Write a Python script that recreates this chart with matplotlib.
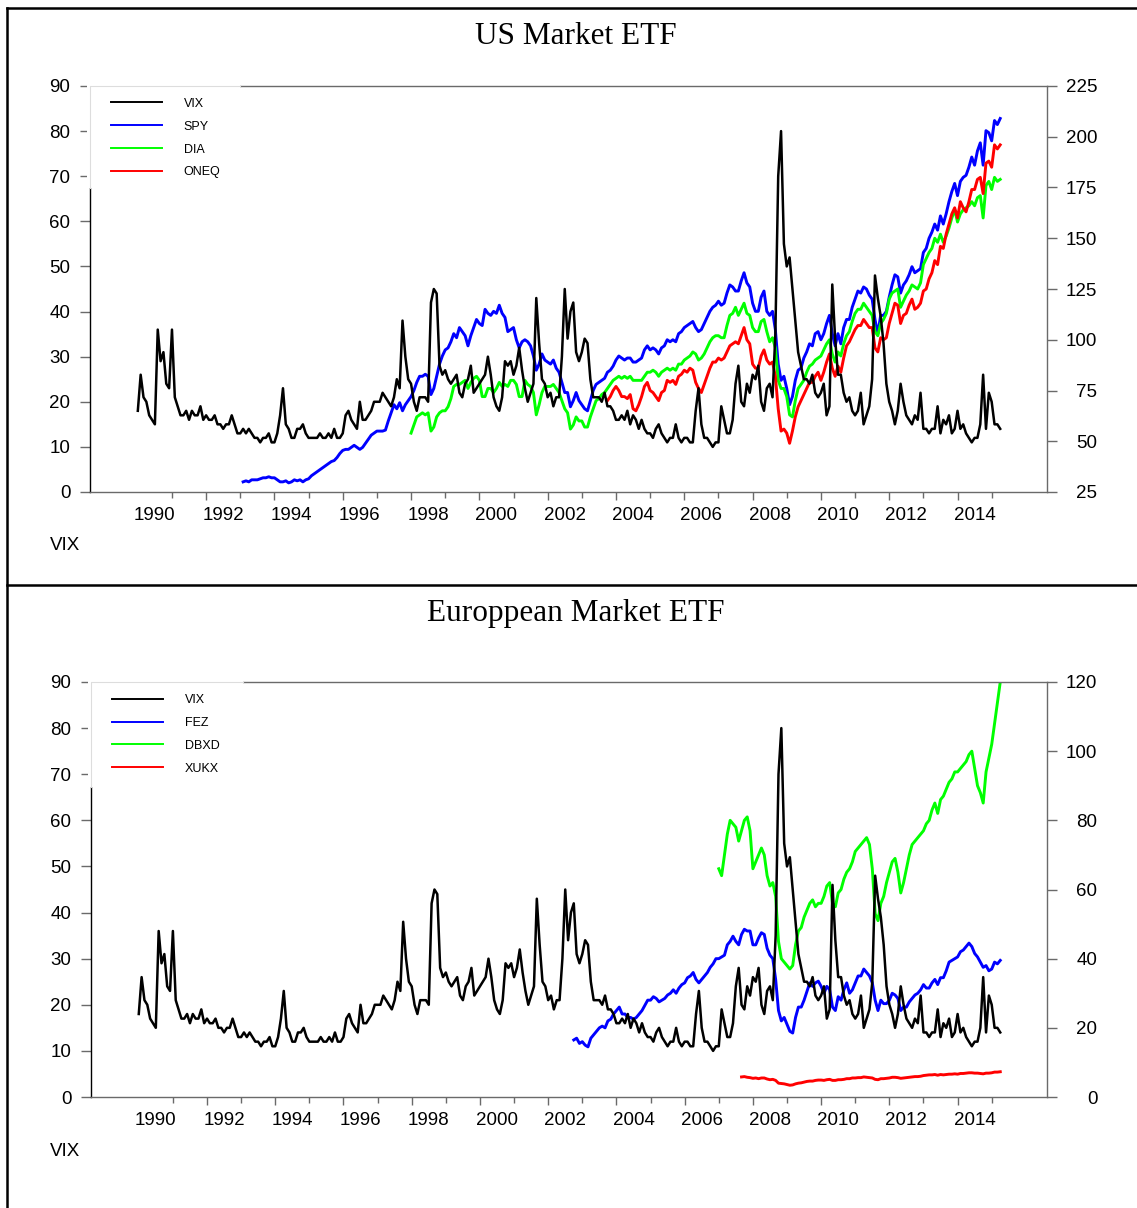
import numpy as np
import matplotlib
matplotlib.use('Agg')
import matplotlib.pyplot as plt
from matplotlib.lines import Line2D
from matplotlib.patches import Rectangle

plt.rcParams['font.family'] = 'Liberation Sans'

# monthly values, first value = first month of the series
vix_start = 1990.0
vix = [18, 26, 21, 20, 17, 16, 15, 36, 29, 31, 24, 23,   # 1990
       36, 21, 19, 17, 17, 18, 16, 18, 17, 17, 19, 16,   # 1991
       17, 16, 16, 17, 15, 15, 14, 15, 15, 17, 15, 13,   # 1992
       13, 14, 13, 14, 13, 12, 12, 11, 12, 12, 13, 11,   # 1993
       11, 13, 17, 23, 15, 14, 12, 12, 14, 14, 15, 13,   # 1994
       12, 12, 12, 12, 13, 12, 12, 13, 12, 14, 12, 12,   # 1995
       13, 17, 18, 16, 15, 14, 20, 16, 16, 17, 18, 20,   # 1996
       20, 20, 22, 21, 20, 19, 21, 25, 23, 38, 30, 25,   # 1997
       24, 20, 18, 21, 21, 21, 20, 42, 45, 44, 28, 26,   # 1998
       27, 25, 24, 25, 26, 22, 21, 24, 25, 28, 22, 23,   # 1999
       24, 25, 26, 30, 26, 21, 19, 18, 21, 29, 28, 29,   # 2000
       26, 28, 32, 27, 23, 20, 22, 24, 43, 33, 25, 24,   # 2001
       21, 22, 19, 21, 21, 30, 45, 34, 40, 42, 31, 29,   # 2002
       31, 34, 33, 25, 21, 21, 21, 20, 22, 19, 19, 18,   # 2003
       16, 16, 17, 16, 18, 15, 17, 16, 14, 16, 14, 13,   # 2004
       13, 12, 14, 15, 13, 12, 11, 12, 12, 15, 12, 11,   # 2005
       12, 12, 11, 11, 18, 23, 15, 12, 12, 11, 10, 11,   # 2006
       11, 19, 16, 13, 13, 16, 24, 28, 20, 19, 24, 22,   # 2007
       26, 25, 28, 20, 18, 23, 24, 21, 35, 70, 80, 55,   # 2008
       50, 52, 45, 38, 31, 28, 25, 25, 24, 26, 22, 21,   # 2009
       22, 24, 17, 19, 46, 34, 26, 26, 22, 20, 21, 18,   # 2010
       17, 18, 22, 15, 17, 19, 25, 48, 43, 39, 33, 24,   # 2011
       20, 18, 15, 18, 24, 20, 17, 16, 15, 17, 16, 22,   # 2012
       14, 14, 13, 14, 14, 19, 13, 16, 15, 17, 13, 14,   # 2013
       18, 14, 15, 13, 12, 11, 12, 12, 15, 26, 14, 22,   # 2014
       20, 15, 15, 14]                                   # 2015

spy_start = 1993 + 1 / 12
spy = [30, 30.5, 30, 31, 31, 31, 31.5, 32, 32, 32.5, 32,
       32, 31, 30, 30, 30.5, 29.5, 30, 31, 30.5, 31, 30, 31,
       31.5, 33, 34, 35, 36, 37, 38, 39, 40, 40.5, 42, 44,
       45.5, 46, 46, 47, 48, 47, 46, 47, 49, 51, 53, 54,
       55, 55, 55, 55.5, 60, 64, 68, 66, 69, 65, 68, 70,
       72, 75, 79, 82, 82, 83, 82, 73, 76, 82, 88, 92,
       95, 96, 99, 103, 101, 106, 104, 102, 97, 102, 106, 110,
       108, 107, 115, 113, 112, 114, 113, 117, 113, 111, 104, 105,
       106, 100, 96, 99, 100, 99, 97, 92, 85, 88, 93, 90,
       89, 88, 90, 86, 84, 79, 74, 74, 67, 70, 74, 70,
       68, 66, 65, 70, 75, 78, 79, 80, 81, 84, 85, 87,
       90, 92, 91, 90, 91, 91, 89, 89, 90, 91, 95, 97,
       95, 96, 95, 93, 96, 97, 100, 99, 100, 99, 103, 104,
       106, 107, 108, 109, 106, 104, 105, 108, 111, 114, 116, 117,
       119, 117, 118, 123, 127, 126, 124, 124, 129, 133, 128, 126,
       118, 114, 114, 121, 124, 114, 112, 114, 105, 88, 80, 82,
       76, 68, 72, 80, 85, 86, 91, 94, 98, 97, 103, 104,
       100, 103, 108, 112, 103, 97, 103, 98, 106, 110, 110, 116,
       120, 124, 123, 126, 125, 122, 120, 110, 103, 112, 112, 114,
       121, 127, 132, 131, 123, 127, 129, 132, 136, 133, 134, 135,
       143, 145, 150, 153, 157, 154, 161, 157, 162, 168, 173, 177,
       171, 178, 180, 181, 185, 190, 186, 193, 197, 186, 203, 202,
       198, 208, 206, 209]

dia_start = 1998.0
dia = [54, 58, 62, 63, 64, 63, 64, 55, 57, 62, 64, 65,
       65, 67, 71, 77, 78, 78, 79, 80, 76, 79, 81, 82,
       80, 72, 72, 76, 76, 74, 76, 79, 77, 78, 77, 80,
       80, 78, 72, 72, 80, 78, 77, 74, 63, 68, 74, 77,
       77, 77, 78, 76, 74, 70, 66, 64, 56, 58, 62, 60,
       60, 57, 57, 62, 66, 70, 71, 73, 74, 76, 78, 80,
       81, 82, 81, 82, 81, 82, 80, 80, 80, 80, 82, 84,
       84, 85, 84, 82, 84, 85, 86, 85, 86, 85, 88, 88,
       90, 91, 92, 94, 93, 90, 91, 93, 96, 99, 101, 102,
       102, 101, 101, 107, 112, 113, 116, 112, 115, 118, 113, 112,
       106, 104, 104, 109, 110, 104, 99, 101, 96, 80, 76, 76,
       72, 63, 62, 70, 76, 78, 80, 84, 87, 88, 90, 91,
       92, 95, 98, 100, 93, 89, 94, 92, 98, 102, 104, 109,
       113, 115, 115, 118, 116, 114, 112, 104, 102, 108, 110, 113,
       120, 123, 124, 125, 116, 119, 122, 124, 127, 126, 125, 128,
       137, 140, 143, 145, 150, 148, 152, 148, 151, 155, 160, 164,
       158, 162, 164, 165, 166, 168, 166, 170, 171, 160, 176, 178,
       174, 180, 178, 179]

oneq_start = 2003 + 9 / 12
oneq = [70, 72, 75,
        77, 75, 72, 72, 71, 73, 66, 65, 68, 72, 77, 79,
        75, 74, 72, 70, 74, 75, 80, 79, 80, 78, 82, 83,
        85, 84, 86, 85, 79, 76, 74, 78, 82, 86, 89, 89,
        91, 90, 91, 94, 97, 98, 99, 98, 102, 106, 100, 98,
        88, 86, 86, 92, 95, 90, 88, 89, 82, 66, 55, 56,
        54, 49, 55, 62, 67, 70, 73, 76, 79, 79, 82, 84,
        80, 84, 89, 93, 86, 82, 87, 84, 91, 97, 99, 102,
        105, 107, 107, 110, 108, 106, 106, 96, 94, 101, 100, 101,
        108, 113, 118, 117, 108, 112, 113, 117, 120, 115, 116, 118,
        124, 125, 130, 133, 139, 137, 146, 145, 152, 157, 162, 165,
        160, 168, 165, 163, 168, 174, 174, 179, 180, 172, 187, 188,
        185, 196, 194, 196]

fez_start = 2002 + 9 / 12
fez = [16.5, 17, 15.5,
       16, 15, 14.5, 17, 18, 19, 20, 20.5, 20, 22, 22.5, 24,
       25, 26, 24, 24, 23, 23, 22.5, 23, 24, 25, 26.5, 28,
       28, 29, 28.5, 27.5, 28, 28.5, 29.5, 30, 31, 30, 31.5, 32.5,
       33, 34.5, 35, 36, 34, 33, 34, 35, 36, 37.5, 38.5, 40,
       40, 40.5, 41, 44, 45, 46.5, 45, 44, 47, 48.5, 48, 48,
       44, 44, 46, 47.5, 47, 43, 41, 40, 34, 25, 22, 23,
       21, 19, 18.5, 23, 26, 26, 28, 30.5, 33, 32, 33, 33.5,
       32, 30, 32, 31, 26, 25, 29, 28, 31, 33, 30, 31,
       33, 35, 35, 37, 36, 35, 33, 28, 25, 28, 27, 27,
       28, 30, 29.5, 28.5, 25, 26, 26, 27.5, 28.5, 29.5, 30, 31,
       32.5, 31.5, 31.5, 33, 34, 32.5, 34.5, 34.5, 36.5, 39, 39.5, 40,
       40.5, 42, 42.5, 43.5, 44.5, 43.5, 41.5, 40.5, 39, 37.5, 38, 36.5,
       37, 39, 38.5, 39.5]

dbxd_start = 2007.0
dbxd = [66, 64, 70, 76, 80, 79, 78, 74, 77, 80, 81, 77,
        66, 68, 70, 72, 70, 64, 61, 62, 58, 45, 40, 39,
        38, 37, 38, 44, 48, 49, 52, 54, 56, 57, 55, 56,
        56, 58, 61, 62, 56, 55, 59, 60, 63, 65, 66, 68,
        71, 72, 73, 74, 75, 73, 66, 53, 51, 56, 58, 62,
        65, 68, 69, 65, 59, 62, 66, 70, 73, 74, 75, 76,
        77, 79, 80, 83, 85, 82, 86, 87, 89, 91, 92, 94,
        94, 95, 96, 97, 99, 100, 95, 90, 88, 85, 94, 98,
        102, 108, 114, 120]

xukx_start = 2007 + 8 / 12
xukx = [5.8, 5.9, 5.7, 5.6,
        5.4, 5.5, 5.3, 5.5, 5.5, 5.2, 5.0, 5.1, 4.8, 4.0, 3.9, 3.8,
        3.6, 3.4, 3.5, 3.8, 4.0, 4.1, 4.3, 4.5, 4.6, 4.6, 4.8, 4.9,
        4.9, 4.8, 5.0, 5.1, 4.8, 4.8, 5.0, 5.0, 5.1, 5.3, 5.3, 5.5,
        5.5, 5.6, 5.6, 5.8, 5.7, 5.6, 5.5, 5.1, 5.0, 5.3, 5.3, 5.4,
        5.5, 5.7, 5.7, 5.6, 5.4, 5.5, 5.6, 5.7, 5.8, 5.9, 5.9, 6.0,
        6.2, 6.3, 6.4, 6.4, 6.5, 6.3, 6.5, 6.4, 6.5, 6.6, 6.6, 6.7,
        6.6, 6.8, 6.8, 6.9, 7.0, 7.0, 6.9, 6.9, 6.8, 6.7, 6.9, 6.9,
        7.0, 7.2, 7.2, 7.3]

year_labels = list(range(1990, 2015, 2))
W, H = 1137, 1208
GRAY = '#6a6a6a'


def months(start, vals):
    return start + np.arange(len(vals)) / 12.0


def panel(rect, series, names, colors, rlim, rticks, box_w, box_h):
    ax = fig.add_axes(rect)
    ax2 = ax.twinx()
    ax.set_zorder(ax2.get_zorder() + 1)
    ax.patch.set_visible(False)

    ax.plot(months(vix_start, vix), vix, color='black', lw=1.8)
    for (start, vals), c in zip(series, colors):
        ax2.plot(months(start, vals), vals, color=c, lw=2.1)

    ax.set_xlim(1988.6, 2016.62)
    ax.set_ylim(0, 90)
    ax.set_yticks(range(0, 91, 10))
    ax2.set_ylim(*rlim)
    ax2.set_yticks(rticks)

    for s in ['top', 'bottom', 'left']:
        ax.spines[s].set_color(GRAY)
        ax.spines[s].set_linewidth(1.0)
    ax.spines['left'].set_color('black')
    ax.spines['right'].set_visible(False)
    for s in ['top', 'bottom', 'left']:
        ax2.spines[s].set_visible(False)
    ax2.spines['right'].set_color(GRAY)
    ax2.spines['right'].set_linewidth(1.0)

    ax.set_xticks(range(1992, 2015, 2))
    ax.set_xticks(range(1991, 2016, 2), minor=True)
    ax.tick_params(axis='x', which='major', length=5.8, width=1, color=GRAY,
                   labelbottom=False)
    ax.tick_params(axis='x', which='minor', length=4.3, width=1, color=GRAY)
    ax.tick_params(axis='y', length=7.2, width=1, color=GRAY, labelsize=13.5, pad=7)
    ax2.tick_params(axis='y', length=7.2, width=1, color=GRAY, labelsize=13.5, pad=29)
    for lbl in ax2.get_yticklabels():
        lbl.set_ha('right')

    for y in year_labels:
        ax.annotate(str(y), xy=(y + 0.5, 0), xycoords=('data', 'axes fraction'),
                    xytext=(0, -11), textcoords='offset points',
                    ha='center', va='top', fontsize=13.5)

    # white legend box hiding the corner of the frame
    ax.add_patch(Rectangle((-0.003, 1 - box_h), box_w + 0.003, box_h + 0.004,
                           transform=ax.transAxes, facecolor='white',
                           edgecolor='none', zorder=10, clip_on=False))
    ax.add_line(Line2D([0, 0, box_w], [1 - box_h, 1, 1], transform=ax.transAxes,
                       color='#dddddd', lw=0.8, zorder=10.5, clip_on=False))
    handles = [Line2D([], [], color=c, lw=1.4) for c in ['black'] + colors]
    leg = ax.legend(handles, names, loc='upper left', bbox_to_anchor=(0.022, 0.971),
                    frameon=False, borderpad=0, borderaxespad=0, handlelength=4.1,
                    handletextpad=1.7, labelspacing=0.87, fontsize=9)
    leg.set_zorder(11)
    return ax


fig = plt.figure(figsize=(W / 100, H / 100), dpi=100)

panel([90 / W, 1 - 492 / H, 957 / W, 406 / H],
      [(spy_start, spy), (dia_start, dia), (oneq_start, oneq)],
      ['VIX', 'SPY', 'DIA', 'ONEQ'], ['#0000ff', '#00ff00', '#ff0000'],
      (25, 225), range(25, 226, 25), 150 / 957, 102 / 406)

panel([91 / W, 1 - 1097 / H, 956 / W, 415 / H],
      [(fez_start, fez), (dbxd_start, dbxd), (xukx_start, xukx)],
      ['VIX', 'FEZ', 'DBXD', 'XUKX'], ['#0000ff', '#00ff00', '#ff0000'],
      (0, 120), range(0, 121, 20), 152 / 956, 105 / 415)

fig.text(576 / W, 1 - 37 / H, 'US Market ETF', family='Liberation Serif',
         fontsize=22.5, ha='center', va='center')
fig.text(576 / W, 1 - 613 / H, 'Europpean Market ETF', family='Liberation Serif',
         fontsize=22.5, ha='center', va='center')
fig.text(65 / W, 1 - 545 / H, 'VIX', fontsize=13.5, ha='center', va='center')
fig.text(65 / W, 1 - 1151 / H, 'VIX', fontsize=13.5, ha='center', va='center')

# outer frame lines
fig.add_artist(Line2D([7 / W, 7 / W], [0, 1 - 8 / H], transform=fig.transFigure,
                      color='black', lw=1.8))
fig.add_artist(Line2D([7 / W, 1], [1 - 8 / H, 1 - 8 / H], transform=fig.transFigure,
                      color='black', lw=1.8))
fig.add_artist(Line2D([7 / W, 1], [1 - 585 / H, 1 - 585 / H], transform=fig.transFigure,
                      color='black', lw=1.8))

fig.savefig('out.png', dpi=100)
